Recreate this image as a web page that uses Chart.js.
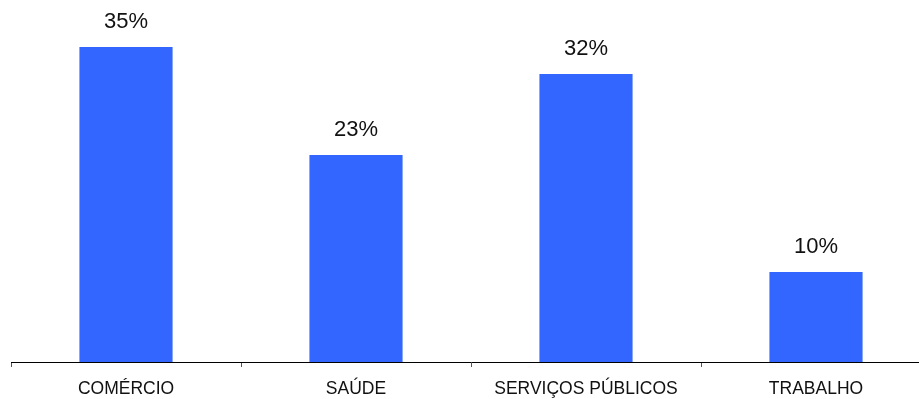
<!DOCTYPE html>
<html>
<head>
<meta charset="utf-8">
<script src="https://cdn.jsdelivr.net/npm/chart.js@4"></script>
<style>
  html, body { margin: 0; padding: 0; background: #fff; }
  #wrap { width: 919px; height: 399px; overflow: hidden; }
  canvas { display: block; }
</style>
</head>
<body>
<div id="wrap"><canvas id="grafico" width="935" height="399"></canvas></div>
<script>
// --- dados ---
const setores = ['COMÉRCIO', 'SAÚDE', 'SERVIÇOS PÚBLICOS', 'TRABALHO'];
const percentuais = [35, 23, 32, 10];

const corBarra = '#3366FF';
const fonte = '"Liberation Sans", Arial, sans-serif';

// rótulo com o valor em cima de cada barra
const rotulosValor = {
    id: 'rotulosValor',
    afterDatasetsDraw(chart) {
        const ctx = chart.ctx;
        const meta = chart.getDatasetMeta(0);
        ctx.save();
        ctx.font = '22px ' + fonte;
        ctx.fillStyle = '#111';
        ctx.textAlign = 'center';
        ctx.textBaseline = 'middle';
        meta.data.forEach((barra, i) => {
            ctx.fillText(percentuais[i] + '%', barra.x, barra.y - 25);
        });
        ctx.restore();
    }
};

new Chart(document.getElementById('grafico'), {
    type: 'bar',
    data: {
        labels: setores,
        datasets: [{
            data: percentuais,
            backgroundColor: corBarra,
            categoryPercentage: 1,
            barPercentage: 0.405
        }]
    },
    options: {
        responsive: false,
        animation: false,
        layout: { padding: { left: 11, right: 4, top: 2, bottom: 0 } },
        plugins: {
            legend: { display: false },
            tooltip: { enabled: false }
        },
        scales: {
            x: {
                afterFit(scale) { scale.height = 37; },
                border: { display: true, color: '#000', width: 1 },
                grid: {
                    offset: true,
                    drawOnChartArea: false,
                    drawTicks: true,
                    tickLength: 5,
                    tickColor: '#555'
                },
                ticks: {
                    padding: 12,
                    color: '#111',
                    maxRotation: 0,
                    font: { family: fonte, size: 17.5 }
                }
            },
            y: {
                display: false,
                min: 0,
                max: 40
            }
        }
    },
    plugins: [rotulosValor]
});
</script>
</body>
</html>
